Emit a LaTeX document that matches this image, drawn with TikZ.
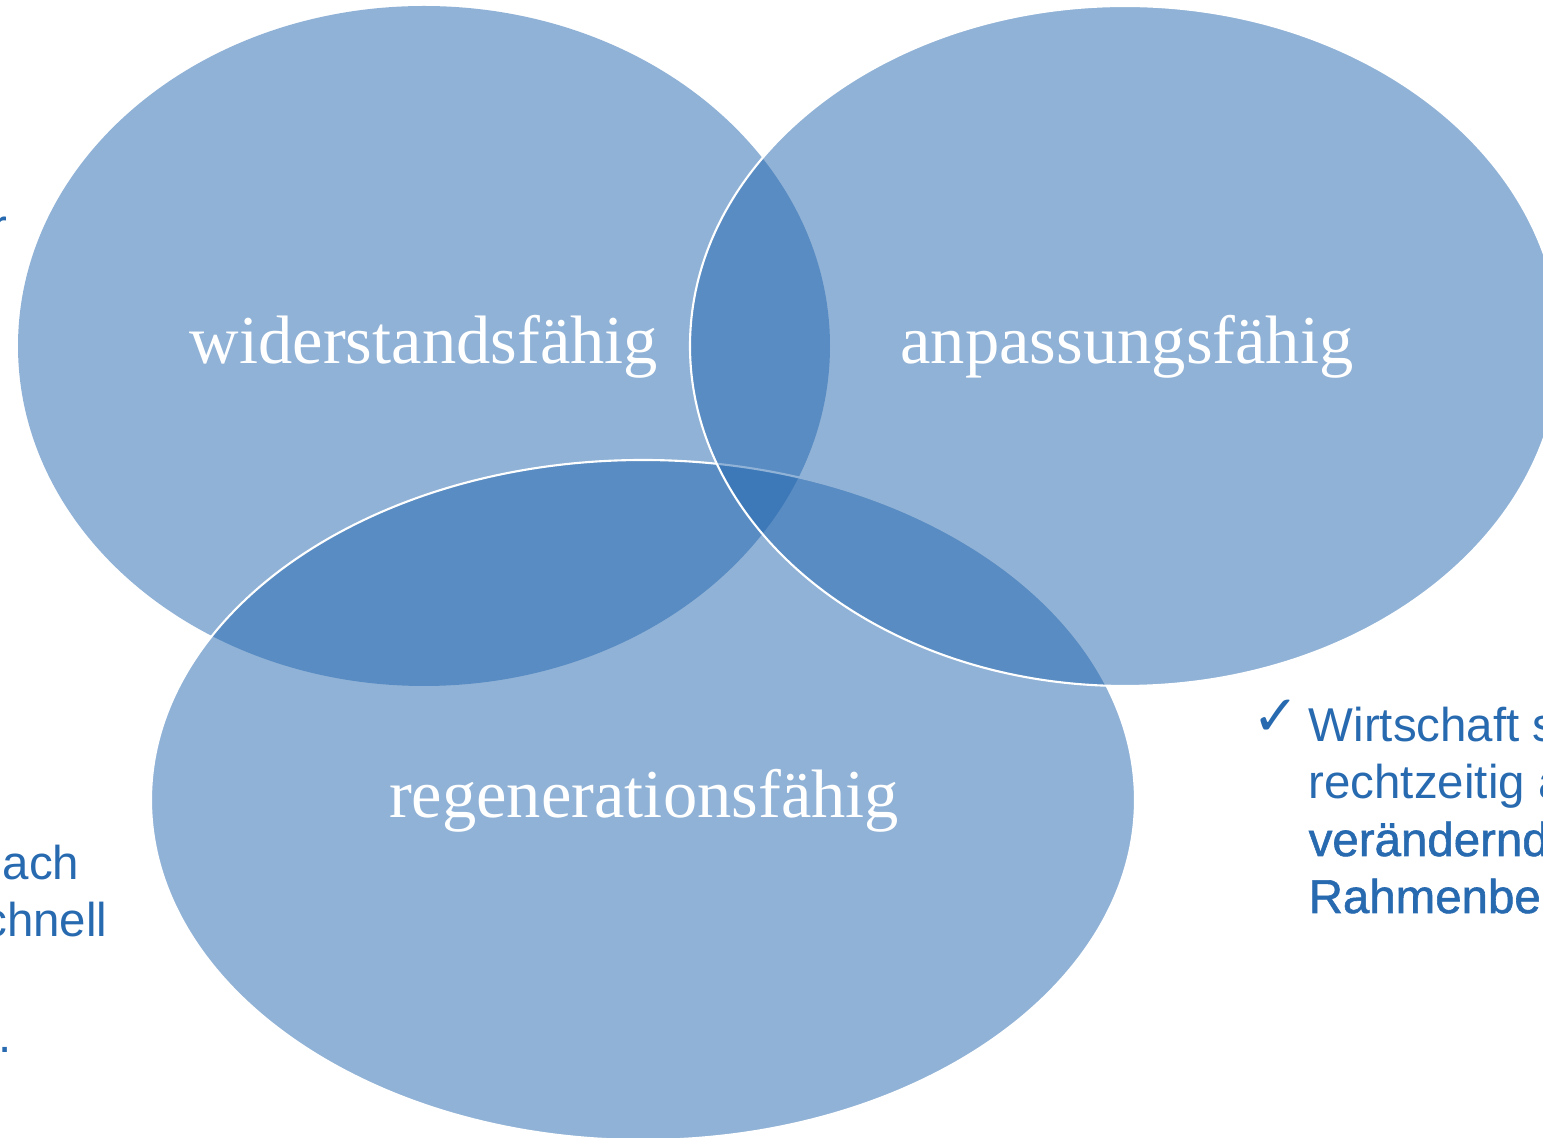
\documentclass[tikz,border=0pt]{standalone}
\usepackage{fontspec}
\setmainfont{Liberation Serif}
\newfontfamily\sidefont{Liberation Sans}
\newfontfamily\sidefontmed[FakeBold=1.2]{Liberation Sans}
\newfontfamily\checkfont{DejaVu Sans}
\usetikzlibrary{shapes.geometric}
\definecolor{vennblue}{RGB}{35,103,175}
\definecolor{sideblue}{RGB}{40,106,176}
\tikzset{
  venn/.style={ellipse, fill=vennblue, fill opacity=0.5, inner sep=0pt, minimum height=6.8cm},
  vennline/.style={draw=white, line width=0.6pt},
  circlabel/.style={white, anchor=base, inner sep=0pt, font=\fontsize{19.5}{23}\selectfont},
  sidetext/.style={sideblue, inner sep=0pt, font=\sidefont\fontsize{13.5}{16}\selectfont},
  sidemed/.style={sidetext, font=\sidefontmed\fontsize{13.5}{16}\selectfont},
}

\begin{document}
\begin{tikzpicture}
    \useasboundingbox (0,-11.38) rectangle (15.43,0);
    \clip (0,-11.38) rectangle (15.43,0);
    \fill[white] (0,-11.38) rectangle (15.43,0);

    \node[venn, minimum width=8.12cm] (resist) at (4.24,-3.46) {};
    \node[venn, vennline, minimum width=9.84cm] (regen) at (6.43,-8.00) {};
    \node[venn, vennline, minimum width=8.70cm] (adapt) at (11.25,-3.46) {};

    \node[circlabel] (resistlabel) at (4.24,-3.64) {widerstandsfähig};
    \node[circlabel] (adaptlabel) at (11.27,-3.64) {anpassungsfähig};
    \node[circlabel] (regenlabel) at (6.44,-8.18) {regenerationsfähig};

    \node[sidetext, anchor=base east] (left1) at (0.08,-2.43) {r};
    \node[sidetext, anchor=base east] (left2) at (0.80,-8.80) {nach};
    \node[sidetext, anchor=base east] (left3) at (1.08,-9.37) {schnell};
    \node[sidetext, anchor=base east] (left4) at (0.12,-10.53) {.};

    \node[sidetext, anchor=base west, font=\checkfont\fontsize{16}{18}\selectfont] (check) at (12.52,-7.36) {✓};
    \foreach [count=\i] \line in {Wirtschaft s, rechtzeitig a} {
      \node[sidetext, anchor=base west] (right\i) at (13.08,{-7.42-0.57*(\i-1)}) {\line};
    }
    \node[sidemed, anchor=base west] (right3) at (13.08,-8.56) {verändernd};
    \node[sidemed, anchor=base west] (right4) at (13.08,-9.13) {Rahmenbe};
\end{tikzpicture}
\end{document}
